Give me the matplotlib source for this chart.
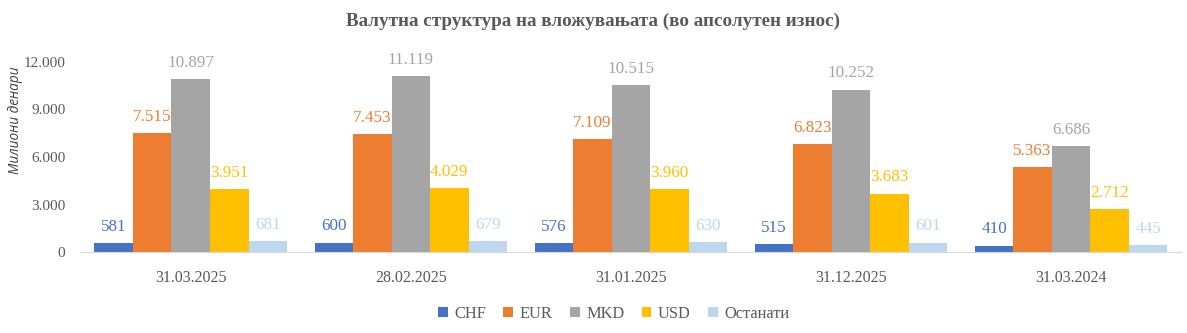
import numpy as np
import matplotlib.pyplot as plt

categories = ["31.03.2025", "28.02.2025", "31.01.2025", "31.12.2025", "31.03.2024"]
series_names = ["CHF", "EUR", "MKD", "USD", "Останати"]
chf = [581, 600, 576, 515, 410]
eur = [7515, 7453, 7109, 6823, 5363]
mkd = [10897, 11119, 10515, 10252, 6686]
usd = [3951, 4029, 3960, 3683, 2712]
other = [681, 679, 630, 601, 445]
yticks = [0, 3000, 6000, 9000, 12000]

colors = ["#4472C4", "#ED7D31", "#A5A5A5", "#FFC000", "#BDD7EE"]
label_colors = ["#4472C4", "#ED7D31", "#A5A5A5", "#FFC000", "#BDD7EE"]
text_gray = "#595959"
serif = ["Liberation Serif", "DejaVu Serif"]


def fmt(v):
    return f"{v:,}".replace(",", ".")


fig = plt.figure(figsize=(11.87, 3.33), dpi=100)
ax = fig.add_axes([0.068, 0.243, 0.927, 0.571])

x = np.arange(len(categories))
width = 0.175
all_series = [chf, eur, mkd, usd, other]
for i, (name, vals) in enumerate(zip(series_names, all_series)):
    pos = x + (i - 2) * width
    ax.bar(pos, vals, width, color=colors[i], label=name, zorder=2)
    for px, v in zip(pos, vals):
        ax.annotate(fmt(v), (px, v), xytext=(0, 6), textcoords="offset points",
                    ha="center", va="bottom", fontsize=12.3, color=label_colors[i],
                    family=serif)

ax.set_xlim(-0.5, len(categories) - 0.5)
ax.set_ylim(0, 12000)
ax.set_yticks(yticks)
ax.set_yticklabels([fmt(t) for t in yticks], family=serif, fontsize=11, color=text_gray)
ax.set_xticks(x)
ax.set_xticklabels(categories, family=serif, fontsize=11.5, color=text_gray)
ax.tick_params(axis="both", length=0)
ax.tick_params(axis="x", pad=13)
ax.tick_params(axis="y", pad=11)
for s in ["top", "right", "left"]:
    ax.spines[s].set_visible(False)
ax.spines["bottom"].set_color("#D9D9D9")

fig.text(0.5, 0.935, "Валутна структура на вложувањата (во апсолутен износ)",
         ha="center", va="center", fontsize=13.8, fontweight="bold", color=text_gray,
         family=serif)
fig.text(0.013, 0.64, "Милиони денари", rotation=90, ha="center", va="center",
         fontsize=9.8, style="italic", color="#404040", family=["Open Sans", "DejaVu Sans"])

leg = fig.legend(loc="center", bbox_to_anchor=(0.517, 0.058), ncol=5, frameon=False,
                 prop={"family": serif, "size": 11.8}, handlelength=0.6, handleheight=0.6,
                 handletextpad=0.4, columnspacing=1.05)
for t in leg.get_texts():
    t.set_color(text_gray)

fig.savefig("out.png", dpi=100)
